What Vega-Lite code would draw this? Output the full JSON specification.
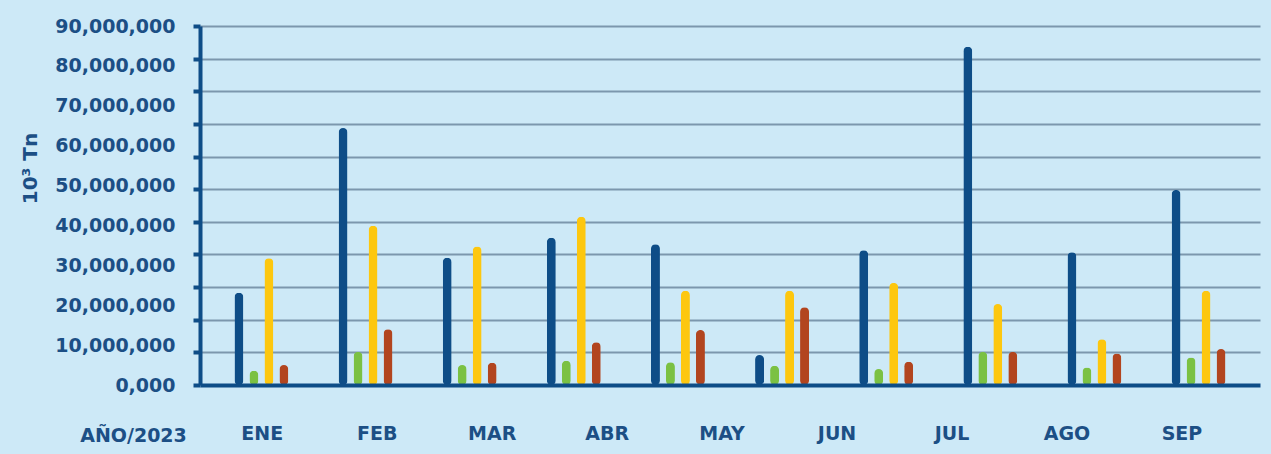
{
  "$schema": "https://vega.github.io/schema/vega-lite/v6.json",
  "width": 1060,
  "height": 359,
  "autosize": {"type": "none"},
  "padding": {"left": 200, "top": 26, "right": 11, "bottom": 69},
  "background": "#cde9f7",
  "config": {"view": {"stroke": null}, "font": "DejaVu Sans"},
  "datasets": {
    "barras": [
      {"grupo": "1", "serie": "s1", "valor": 23100000},
      {"grupo": "1", "serie": "s2", "valor": 3600000},
      {"grupo": "1", "serie": "s3", "valor": 31800000},
      {"grupo": "1", "serie": "s4", "valor": 5000000},
      {"grupo": "2", "serie": "s1", "valor": 64400000},
      {"grupo": "2", "serie": "s2", "valor": 8300000},
      {"grupo": "2", "serie": "s3", "valor": 39900000},
      {"grupo": "2", "serie": "s4", "valor": 14000000},
      {"grupo": "3", "serie": "s1", "valor": 31900000},
      {"grupo": "3", "serie": "s2", "valor": 5000000},
      {"grupo": "3", "serie": "s3", "valor": 34700000},
      {"grupo": "3", "serie": "s4", "valor": 5600000},
      {"grupo": "4", "serie": "s1", "valor": 36900000},
      {"grupo": "4", "serie": "s2", "valor": 6100000},
      {"grupo": "4", "serie": "s3", "valor": 42200000},
      {"grupo": "4", "serie": "s4", "valor": 10700000},
      {"grupo": "5", "serie": "s1", "valor": 35300000},
      {"grupo": "5", "serie": "s2", "valor": 5700000},
      {"grupo": "5", "serie": "s3", "valor": 23600000},
      {"grupo": "5", "serie": "s4", "valor": 13800000},
      {"grupo": "6", "serie": "s1", "valor": 7500000},
      {"grupo": "6", "serie": "s2", "valor": 4800000},
      {"grupo": "6", "serie": "s3", "valor": 23600000},
      {"grupo": "6", "serie": "s4", "valor": 19500000},
      {"grupo": "7", "serie": "s1", "valor": 33800000},
      {"grupo": "7", "serie": "s2", "valor": 4000000},
      {"grupo": "7", "serie": "s3", "valor": 25600000},
      {"grupo": "7", "serie": "s4", "valor": 5800000},
      {"grupo": "8", "serie": "s1", "valor": 84800000},
      {"grupo": "8", "serie": "s2", "valor": 8300000},
      {"grupo": "8", "serie": "s3", "valor": 20300000},
      {"grupo": "8", "serie": "s4", "valor": 8300000},
      {"grupo": "9", "serie": "s1", "valor": 33300000},
      {"grupo": "9", "serie": "s2", "valor": 4400000},
      {"grupo": "9", "serie": "s3", "valor": 11500000},
      {"grupo": "9", "serie": "s4", "valor": 7900000},
      {"grupo": "10", "serie": "s1", "valor": 48900000},
      {"grupo": "10", "serie": "s2", "valor": 6900000},
      {"grupo": "10", "serie": "s3", "valor": 23600000},
      {"grupo": "10", "serie": "s4", "valor": 9000000}
    ],
    "meses": [
      {"mes": "ENE"}, {"mes": "FEB"}, {"mes": "MAR"}, {"mes": "ABR"}, {"mes": "MAY"},
      {"mes": "JUN"}, {"mes": "JUL"}, {"mes": "AGO"}, {"mes": "SEP"}
    ]
  },
  "layer": [
    {
      "data": {"name": "barras"},
      "mark": {"type": "bar", "cornerRadius": 4.5},
      "encoding": {
        "x": {"field": "grupo", "type": "nominal", "sort": null, "axis": null,
              "scale": {"paddingInner": 0.42, "paddingOuter": 0.3}},
        "xOffset": {"field": "serie", "type": "nominal", "sort": null,
                    "scale": {"paddingInner": 0.4, "paddingOuter": 0.215}},
        "y": {
          "field": "valor", "type": "quantitative",
          "scale": {"domain": [0, 90000000], "nice": false},
          "axis": {
            "values": [0, 8181818.18, 10000000, 16363636.36, 20000000, 24545454.55, 30000000, 32727272.73, 40000000, 40909090.91, 49090909.09, 50000000, 57272727.27, 60000000, 65454545.45, 70000000, 73636363.64, 80000000, 81818181.82, 90000000],
            "labelExpr": "datum.value % 10000000 == 0 ? (datum.value == 0 ? '0,000' : format(datum.value, ',')) : ''",
            "labelOverlap": false,
            "labelFont": "DejaVu Sans", "labelFontWeight": "bold", "labelFontSize": 19,
            "labelColor": "#1c4f85", "labelPadding": 18,
            "tickSize": 7, "tickWidth": 4, "tickColor": "#0e4d87",
            "tickOpacity": {"condition": {"test": "datum.value % 10000000 != 0 || datum.value == 0 || datum.value == 90000000", "value": 1}, "value": 0},
            "domainColor": "#0e4d87", "domainWidth": 4,
            "grid": true, "gridColor": "#7c97ad", "gridWidth": 2,
            "gridOpacity": {"condition": {"test": "datum.value % 10000000 != 0 || datum.value == 90000000", "value": 1}, "value": 0},
            "title": "10³ Tn",
            "titleFont": "DejaVu Sans", "titleFontWeight": "bold", "titleFontSize": 20,
            "titleColor": "#1c4f85", "titleX": -170, "titleY": 142, "titleAngle": -90,
            "titleAlign": "center", "titleBaseline": "middle"
          }
        },
        "color": {
          "field": "serie", "type": "nominal",
          "scale": {"domain": ["s1", "s2", "s3", "s4"], "range": ["#0e4d87", "#7bc143", "#fdc70f", "#b2451f"]},
          "legend": null
        }
      }
    },
    {
      "data": {"name": "meses"},
      "mark": {"type": "point", "opacity": 0},
      "encoding": {
        "x": {
          "field": "mes", "type": "nominal", "sort": null,
          "scale": {"type": "point", "padding": 0.61, "align": 0.44},
          "axis": {
            "orient": "bottom", "zindex": 1,
            "title": "AÑO/2023",
            "domain": true, "domainColor": "#0e4d87", "domainWidth": 4,
            "ticks": false, "tickSize": 0,
            "labelPadding": 39, "labelAngle": 0,
            "labelFont": "DejaVu Sans", "labelFontWeight": "bold", "labelFontSize": 19,
            "labelColor": "#1c4f85",
            "titleFont": "DejaVu Sans", "titleFontWeight": "bold", "titleFontSize": 19,
            "titleColor": "#1c4f85", "titleX": -67, "titleY": 50,
            "titleAlign": "center", "titleBaseline": "middle"
          }
        }
      }
    }
  ],
  "resolve": {"scale": {"x": "independent"}, "axis": {"x": "independent"}}
}
